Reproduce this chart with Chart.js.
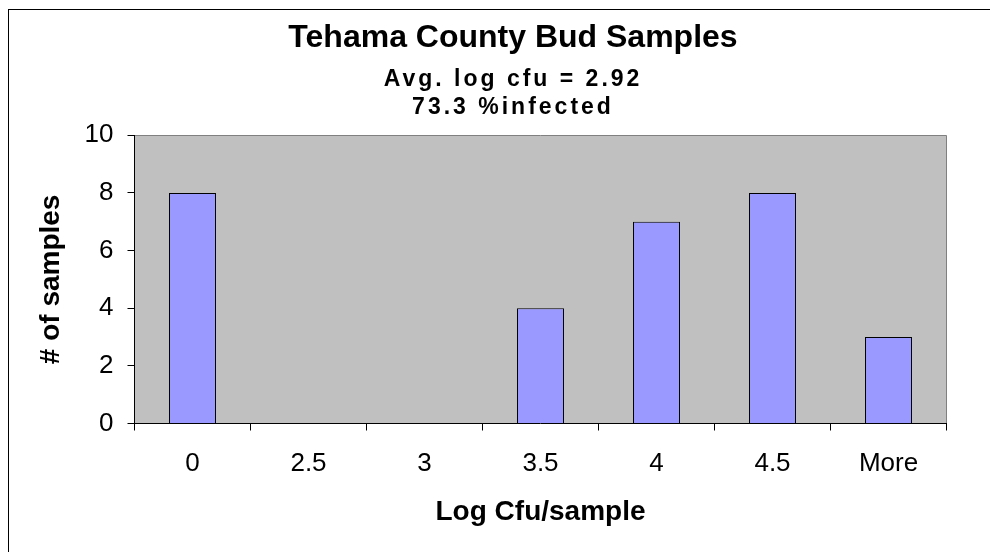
<!DOCTYPE html>
<html>
<head>
<meta charset="utf-8">
<script src="https://cdn.jsdelivr.net/npm/chart.js@4.4.1/dist/chart.umd.min.js"></script>
<style>
  html, body { margin: 0; padding: 0; background: #fff; overflow: hidden; }
  #frame {
    position: absolute; left: 8px; top: 9px;
    width: 1100px; height: 700px;
    border: 1px solid #000;
  }
  #chartBox { position: absolute; left: 8px; top: 9px; }
</style>
</head>
<body>
<div id="frame"></div>
<div id="chartBox"><canvas id="budChart" width="1010" height="560"></canvas></div>
<script>
/* =========================
   DATA
========================= */
const binLabels = ["0", "2.5", "3", "3.5", "4", "4.5", "More"];
const sampleCounts = [8, 0, 0, 4, 7, 8, 3];

const titleText = "Tehama County Bud Samples";
const subtitleLines = ["Avg. log cfu = 2.92", "73.3 %infected"];
const xTitle = "Log Cfu/sample";
const yTitle = "# of samples";

const FONT = "Arial, 'Liberation Sans', sans-serif";

/* =========================
   PLOT AREA BACKGROUND
========================= */
const plotBg = {
  id: "plotBg",
  beforeDraw(chart) {
    const { ctx, chartArea: a } = chart;
    ctx.save();
    ctx.fillStyle = "#C0C0C0";
    ctx.fillRect(a.left, a.top, a.right - a.left, a.bottom - a.top);
    ctx.strokeStyle = "#808080";
    ctx.lineWidth = 1;
    ctx.beginPath();
    ctx.moveTo(a.left, Math.round(a.top) + 0.5);
    ctx.lineTo(Math.round(a.right) - 0.5, Math.round(a.top) + 0.5);
    ctx.lineTo(Math.round(a.right) - 0.5, a.bottom);
    ctx.stroke();
    ctx.restore();

    // the subtitle lines are drawn a bit spread out in the original
    chart.boxes.forEach(b => {
      if (b.weight === 1500 && b.position === "top" && !b._spaced) {
        const orig = b.draw.bind(b);
        b.draw = function () {
          const c = this.ctx;
          const prev = c.letterSpacing;
          c.letterSpacing = "3px";
          orig();
          c.letterSpacing = prev || "0px";
        };
        b._spaced = true;
      }
    });
  }
};

/* =========================
   CHART
========================= */
const chart = new Chart(document.getElementById("budChart"), {
  type: "bar",
  data: {
    labels: binLabels,
    datasets: [{
      label: "Frequency",
      data: sampleCounts,
      backgroundColor: "#9999FF",
      borderColor: "#000000",
      borderWidth: 1,
      categoryPercentage: 1,
      barPercentage: 0.405
    }]
  },
  options: {
    responsive: false,
    animation: false,
    layout: { padding: 0 },
    plugins: {
      legend: { display: false },
      tooltip: { enabled: false },
      title: {
        display: true,
        text: titleText,
        color: "#000",
        font: { family: FONT, size: 32, weight: "bold", lineHeight: 1.2 },
        padding: { top: 9.5, bottom: 0 }
      },
      subtitle: {
        display: true,
        text: subtitleLines,
        color: "#000",
        font: { family: FONT, size: 23, weight: "bold", lineHeight: 1.24 },
        padding: { top: 8, bottom: 13.3 }
      }
    },
    scales: {
      x: {
        grid: {
          display: true,
          offset: true,
          drawOnChartArea: false,
          drawTicks: true,
          tickLength: 7,
          color: "#000"
        },
        border: { display: true, color: "#000", width: 1 },
        ticks: {
          color: "#000",
          padding: 18,
          font: { family: FONT, size: 26 }
        },
        title: {
          display: true,
          text: xTitle,
          color: "#000",
          font: { family: FONT, size: 28, weight: "bold" },
          padding: { top: 0, bottom: 40 }
        },
        afterFit(scale) { scale.height = 145.5; }
      },
      y: {
        min: 0,
        max: 10,
        ticks: {
          stepSize: 2,
          color: "#000",
          padding: 14,
          font: { family: FONT, size: 26 }
        },
        grid: {
          display: true,
          drawOnChartArea: false,
          drawTicks: true,
          tickLength: 7,
          color: "#000"
        },
        border: { display: true, color: "#000", width: 1 },
        title: {
          display: true,
          text: yTitle,
          color: "#000",
          font: { family: FONT, size: 28, weight: "bold" },
          padding: { top: 26, bottom: 0 }
        },
        afterFit(scale) { scale.width = 126.5; }
      },
      // empty right-hand axis, only keeps the white margin right of the plot
      yRight: {
        position: "right",
        min: 0,
        max: 10,
        grid: { display: false },
        border: { display: false },
        ticks: { display: false },
        afterFit(scale) { scale.width = 71.5; }
      }
    }
  },
  plugins: [plotBg]
});
chart.draw();
</script>
</body>
</html>
